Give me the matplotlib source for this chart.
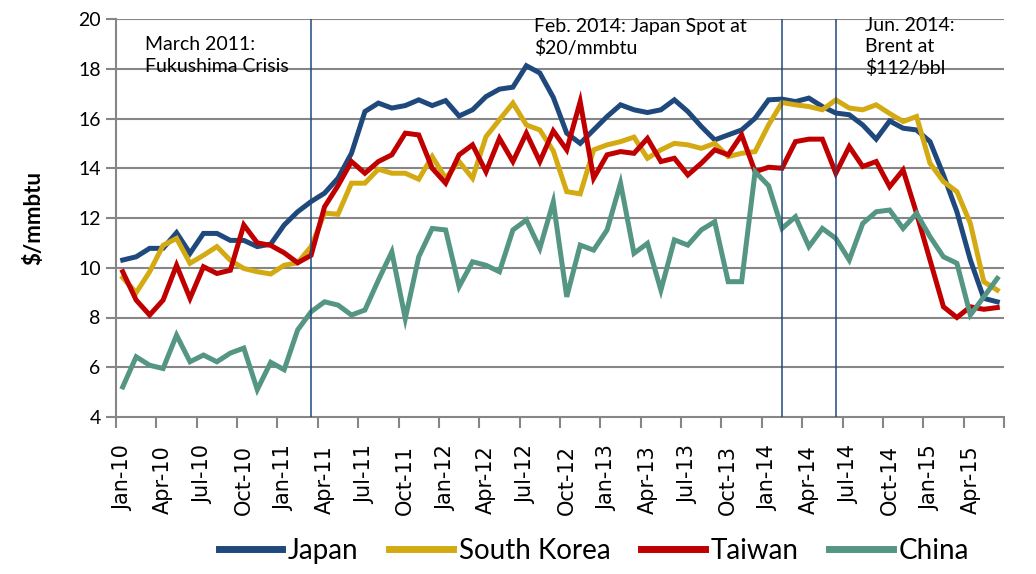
import matplotlib
matplotlib.use("Agg")
import matplotlib.pyplot as plt
import numpy as np

# monthly LNG import prices, Jan-10 .. Jun-15 ($/mmbtu)
months = ["Jan-10", "Feb-10", "Mar-10", "Apr-10", "May-10", "Jun-10", "Jul-10", "Aug-10", "Sep-10",
          "Oct-10", "Nov-10", "Dec-10", "Jan-11", "Feb-11", "Mar-11", "Apr-11", "May-11", "Jun-11",
          "Jul-11", "Aug-11", "Sep-11", "Oct-11", "Nov-11", "Dec-11", "Jan-12", "Feb-12", "Mar-12",
          "Apr-12", "May-12", "Jun-12", "Jul-12", "Aug-12", "Sep-12", "Oct-12", "Nov-12", "Dec-12",
          "Jan-13", "Feb-13", "Mar-13", "Apr-13", "May-13", "Jun-13", "Jul-13", "Aug-13", "Sep-13",
          "Oct-13", "Nov-13", "Dec-13", "Jan-14", "Feb-14", "Mar-14", "Apr-14", "May-14", "Jun-14",
          "Jul-14", "Aug-14", "Sep-14", "Oct-14", "Nov-14", "Dec-14", "Jan-15", "Feb-15", "Mar-15",
          "Apr-15", "May-15", "Jun-15"]

japan = [10.31, 10.44, 10.78, 10.78, 11.41, 10.58, 11.38, 11.38, 11.10, 11.10, 10.85, 10.95,
         11.72, 12.25, 12.66, 13.00, 13.60, 14.60, 16.28, 16.62, 16.42, 16.52, 16.75, 16.52,
         16.72, 16.10, 16.35, 16.88, 17.18, 17.26, 18.12, 17.83, 16.85, 15.41, 15.00, 15.54,
         16.08, 16.55, 16.35, 16.24, 16.35, 16.75, 16.28, 15.68, 15.14, 15.34, 15.54, 16.01,
         16.75, 16.78, 16.68, 16.82, 16.48, 16.22, 16.15, 15.74, 15.17, 15.90, 15.61, 15.54,
         15.07, 13.73, 12.25, 10.31, 8.77, 8.63]

south_korea = [9.60, 9.00, 9.84, 10.90, 11.18, 10.18, 10.50, 10.85, 10.30, 9.97, 9.84, 9.75,
               10.10, 10.20, 10.85, 12.20, 12.15, 13.40, 13.40, 13.96, 13.80, 13.80, 13.56, 14.47,
               13.60, 14.27, 13.60, 15.27, 15.95, 16.62, 15.74, 15.54, 14.70, 13.06, 12.97, 14.74,
               14.94, 15.07, 15.25, 14.40, 14.74, 15.00, 14.94, 14.80, 15.00, 14.47, 14.60, 14.67,
               15.74, 16.64, 16.55, 16.48, 16.35, 16.75, 16.42, 16.35, 16.55, 16.20, 15.88, 16.08,
               14.20, 13.46, 13.06, 11.78, 9.44, 9.10]

taiwan = [9.84, 8.70, 8.10, 8.70, 10.10, 8.77, 10.04, 9.77, 9.90, 11.72, 11.00, 10.90,
          10.60, 10.20, 10.50, 12.45, 13.30, 14.27, 13.80, 14.27, 14.54, 15.41, 15.34, 14.00,
          13.40, 14.54, 14.94, 13.86, 15.20, 14.27, 15.41, 14.27, 15.50, 14.74, 16.68, 13.60,
          14.54, 14.67, 14.60, 15.20, 14.27, 14.40, 13.73, 14.20, 14.74, 14.54, 15.34, 13.86,
          14.04, 14.00, 15.07, 15.17, 15.17, 13.80, 14.87, 14.07, 14.27, 13.26, 13.93, 12.19,
          10.31, 8.43, 8.00, 8.43, 8.33, 8.40]

china = [5.21, 6.42, 6.08, 5.95, 7.29, 6.22, 6.49, 6.22, 6.57, 6.77, 5.10, 6.20,
         5.90, 7.50, 8.23, 8.63, 8.50, 8.10, 8.30, 9.50, 10.64, 7.96, 10.44, 11.58,
         11.52, 9.24, 10.24, 10.10, 9.84, 11.52, 11.92, 10.78, 12.65, 8.83, 10.91, 10.71,
         11.52, 13.40, 10.58, 10.98, 9.10, 11.12, 10.91, 11.52, 11.85, 9.44, 9.44, 13.86,
         13.30, 11.58, 12.05, 10.85, 11.58, 11.18, 10.31, 11.78, 12.25, 12.32, 11.58, 12.19,
         11.25, 10.44, 10.18, 8.10, 8.83, 9.57]

events = ["Mar-11", "Feb-14", "Jun-14"]

series = [("Japan", japan, "#1F497D"),
          ("South Korea", south_korea, "#D4AA13"),
          ("Taiwan", taiwan, "#C00000"),
          ("China", china, "#549683")]

grid_col = "#868686"
fig = plt.figure(figsize=(10.36, 5.74), dpi=100)
ax = fig.add_axes([116 / 1036, 1 - 417 / 574, 888 / 1036, 398 / 574])

x = np.arange(len(months))
ax.set_xlim(-0.5, len(months) - 0.5)
ax.set_ylim(4, 20)

for y in range(6, 21, 2):
    ax.axhline(y, color=grid_col, lw=1.5, zorder=1)

for name, vals, col in series:
    ax.plot(x, vals, color=col, lw=3.6, label=name, zorder=3, solid_joinstyle="miter")

for ev in events:
    ax.axvline(months.index(ev), color="#1F497D", lw=1.1, zorder=4)

for s in ["top", "right"]:
    ax.spines[s].set_visible(False)
for s in ["left", "bottom"]:
    ax.spines[s].set_color(grid_col)
    ax.spines[s].set_linewidth(1.5)

ax.set_yticks(range(4, 21, 2))
ax.tick_params(axis="y", length=7, width=1.5, color=grid_col, labelsize=14, pad=4)
for lab in ax.get_yticklabels():
    lab.set_family("Lato")

ax.set_xticks(x[::3])
ax.set_xticklabels(months[::3], rotation=90, family="DejaVu Sans", fontsize=15)
ax.set_xticks(np.arange(-0.5, len(months), 3), minor=True)
ax.tick_params(axis="x", which="major", length=0, pad=20)
ax.tick_params(axis="x", which="minor", length=8, width=1.5, color=grid_col)

ax.set_ylabel("$/mmbtu", family="Lato", fontweight="bold", fontsize=16, labelpad=24)

tkw = dict(family="Lato", fontsize=14, va="top", ha="left", linespacing=1.3, zorder=5)
ax.text(1.65, 19.3, "March 2011:\nFukushima Crisis", **tkw)
ax.text(30.6, 20.05, "Feb. 2014: Japan Spot at\n$20/mmbtu", **tkw)
ax.text(55.2, 20.1, "Jun. 2014:\nBrent at\n$112/bbl", **tkw, clip_on=False)

leg = fig.legend(loc="center", bbox_to_anchor=(0.573, 0.04), ncol=4, frameon=False,
                 handlelength=2.3, handletextpad=0.2, columnspacing=1.1,
                 prop={"family": "Lato", "size": 20})
for h in leg.get_lines():
    h.set_linewidth(5)

fig.savefig("out.png", dpi=100)
